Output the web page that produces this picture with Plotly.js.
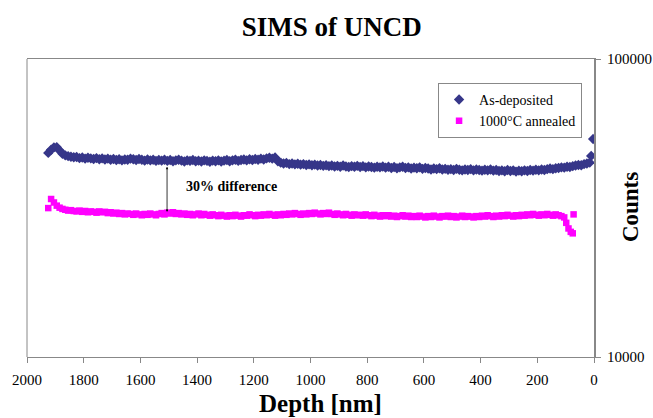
<!DOCTYPE html>
<html>
<head>
<meta charset="utf-8">
<script src="https://cdn.plot.ly/plotly-3.0.1.min.js"></script>
<style>html,body{margin:0;padding:0;background:#fff;}#chart{width:653px;height:418px;}</style>
</head>
<body>
<div id="chart"></div>
<script>
// ---- Data ----
var asDepDepth = [1925,1915,1905,1895,1885,1875,1865,1855,1845,1835,
1825,1815,1805,1795,1785,1775,1765,1755,1745,1735,
1725,1715,1705,1695,1685,1675,1665,1655,1645,1635,
1625,1615,1605,1595,1585,1575,1565,1555,1545,1535,
1525,1515,1505,1495,1485,1475,1465,1455,1445,1435,
1425,1415,1405,1395,1385,1375,1365,1355,1345,1335,
1325,1315,1305,1295,1285,1275,1265,1255,1245,1235,
1225,1215,1205,1195,1185,1175,1165,1155,1145,1135,
1125,1115,1105,1095,1085,1075,1065,1055,1045,1035,
1025,1015,1005,995,985,975,965,955,945,935,
925,915,905,895,885,875,865,855,845,835,
825,815,805,795,785,775,765,755,745,735,
725,715,705,695,685,675,665,655,645,635,
625,615,605,595,585,575,565,555,545,535,
525,515,505,495,485,475,465,455,445,435,
425,415,405,395,385,375,365,355,345,335,
325,315,305,295,285,275,265,255,245,235,
225,215,205,195,185,175,165,155,145,135,
125,115,105,95,85,75,65,55,45,35,
25,15,10,3];
var asDepCounts = [48400,49600,50500,50600,49300,48100,47500,47200,47000,46800,
46900,46500,46700,46300,46600,46400,46200,46500,46100,46400,
46000,46300,45900,46200,45800,46100,45700,46000,45900,46300,
46100,45800,46200,45900,45600,46000,45700,45900,45500,45800,
45600,45900,45500,45800,45400,45700,45900,45600,45300,45700,
45500,45800,45400,45600,45300,45700,45500,45200,45600,45400,
45700,45300,45600,45800,45400,45700,45900,45500,45800,46000,
45700,46100,45800,46200,45900,46300,46000,46400,46600,46300,
46700,45400,44900,44600,44800,44400,44600,44300,44500,44200,
44400,44100,44300,44000,44200,43900,44100,43800,44000,43700,
43900,43600,43800,43500,43900,43600,43400,43700,43500,43800,
43400,43700,43300,43600,43400,43200,43500,43300,43600,43200,
43500,43100,43400,43000,43300,43500,43100,43300,42900,43200,
43000,43300,42800,43100,42900,42600,42900,42700,43000,42600,
42800,42500,42700,42400,42800,42500,42300,42600,42400,42700,
42300,42600,42400,42200,42500,42300,42600,42200,42400,42100,
42300,42000,42400,42100,42300,41900,42200,42000,42300,42100,
42400,42200,42500,42300,42600,42400,42700,42900,42700,43000,
43100,43300,43200,43500,43400,43700,43900,44100,44000,44400,
44600,44900,47300,53900];

var annDepth = [1925,1915,1905,1895,1885,1875,1865,1855,1845,1835,
1825,1815,1805,1795,1785,1775,1765,1755,1745,1735,
1725,1715,1705,1695,1685,1675,1665,1655,1645,1635,
1625,1615,1605,1595,1585,1575,1565,1555,1545,1535,
1525,1515,1505,1495,1485,1475,1465,1455,1445,1435,
1425,1415,1405,1395,1385,1375,1365,1355,1345,1335,
1325,1315,1305,1295,1285,1275,1265,1255,1245,1235,
1225,1215,1205,1195,1185,1175,1165,1155,1145,1135,
1125,1115,1105,1095,1085,1075,1065,1055,1045,1035,
1025,1015,1005,995,985,975,965,955,945,935,
925,915,905,895,885,875,865,855,845,835,
825,815,805,795,785,775,765,755,745,735,
725,715,705,695,685,675,665,655,645,635,
625,615,605,595,585,575,565,555,545,535,
525,515,505,495,485,475,465,455,445,435,
425,415,405,395,385,375,365,355,345,335,
325,315,305,295,285,275,265,255,245,235,
225,215,205,195,185,175,165,155,145,135,
125,115,105,98,90,82,75,72];
var annCounts = [31600,33900,33000,32200,31700,31400,31200,31000,31100,30900,
30800,31000,30700,30900,30600,30800,30700,30500,30800,30600,
30700,30400,30600,30300,30500,30200,30400,30100,30300,30200,
30000,30300,30100,29900,30200,30000,30300,30100,29900,30200,
30400,30100,30500,30300,30600,30200,30400,30100,30300,30000,
30200,29900,30100,30300,29900,30200,30000,29800,30100,29900,
29700,30000,29800,29600,29900,29700,30000,29800,29600,29900,
29800,30100,29900,29700,30000,29800,30100,29900,30200,30000,
29800,30100,29900,30200,30000,30300,30100,30400,30200,30000,
30300,30100,30400,30200,30500,30300,30100,30400,30200,30500,
30200,30000,30300,30100,29900,30200,30000,29800,30100,29900,
30000,29800,30100,29900,29700,30000,29800,29600,29900,29700,
29900,29600,29800,29500,29700,29900,29600,29800,29500,29700,
29500,29800,29600,29400,29700,29500,29800,29600,29400,29700,
29600,29800,29500,29700,29400,29600,29800,29500,29700,29600,
29400,29700,29500,29800,29600,29900,29700,29500,29800,29600,
29900,29700,30000,29800,29600,29900,29700,30000,29800,30100,
29900,30200,30000,29800,30100,29900,30200,30000,29800,30100,
29900,29700,29400,28200,27000,26300,26000,30100];

var seriesNames = ['As-deposited', '1000\u00B0C annealed'];
var xTickVals = [2000,1800,1600,1400,1200,1000,800,600,400,200,0];
var yTickVals = [10000, 100000];
var yTickText = ['10000', '100000'];
var diffLabel = '30% difference';
var arrowDepth = 1506;
var arrowTop = 44000;
var arrowBottom = 30700;
var labelDepth = 1277;
var labelCounts = 37200;

var serif = 'Liberation Serif, Times New Roman, serif';

var traces = [
  {x: asDepDepth, y: asDepCounts, name: seriesNames[0], type: 'scatter', mode: 'markers',
   marker: {symbol: 'diamond', size: 8, color: '#363689'}},
  {x: annDepth, y: annCounts, name: seriesNames[1], type: 'scatter', mode: 'markers',
   marker: {symbol: 'square', size: 6.5, color: '#FF00FF'}}
];

var layout = {
  width: 653, height: 418,
  margin: {l: 27, r: 59, t: 59, b: 61, pad: 0},
  paper_bgcolor: '#fff', plot_bgcolor: '#fff',
  font: {family: serif, color: '#000', size: 15},
  title: {text: '<b>SIMS of UNCD</b>', font: {family: serif, size: 27, color: '#000'},
          xref: 'container', x: 0.508, xanchor: 'center', yref: 'container', y: 0.937, yanchor: 'middle'},
  showlegend: true,
  legend: {x: 0.725, y: 0.92, xanchor: 'left', yanchor: 'top', bgcolor: '#fff',
           bordercolor: '#888', borderwidth: 1, font: {family: serif, size: 14, color: '#000'},
           itemwidth: 30, tracegroupgap: 0},
  xaxis: {range: [2000, 0], tickvals: xTickVals, ticks: 'outside', ticklen: 5, tickcolor: '#888',
          showline: true, linecolor: '#888', linewidth: 1, mirror: true, showgrid: false, zeroline: false,
          tickfont: {family: serif, size: 15, color: '#000'}, ticklabelstandoff: 4},
  yaxis: {type: 'log', range: [4, 5], side: 'right', tickvals: yTickVals, ticktext: yTickText,
          ticks: 'outside', ticklen: 5, tickcolor: '#888', showline: true, linecolor: '#888', linewidth: 2,
          showgrid: false, zeroline: false, tickfont: {family: serif, size: 15, color: '#000'},
          ticklabelstandoff: 3},
  shapes: [
    {type: 'line', xref: 'paper', yref: 'paper', x0: 0, x1: 0, y0: 0, y1: 1, line: {color: '#888', width: 1}}
  ],
  annotations: [
    {xref: 'paper', yref: 'paper', x: 0.517, y: -0.155, text: '<b>Depth [nm]</b>', showarrow: false,
     font: {family: serif, size: 25, color: '#000'}, xanchor: 'center', yanchor: 'middle', borderpad: 0},
    {xref: 'paper', yref: 'paper', x: 1.0635, y: 0.503, text: '<b>Counts</b>', showarrow: false,
     textangle: -90, font: {family: serif, size: 23, color: '#000'}, xanchor: 'center', yanchor: 'middle'},
    {x: labelDepth, y: Math.log10(labelCounts), xref: 'x', yref: 'y', text: '<b>' + diffLabel + '</b>',
     showarrow: false, font: {family: serif, size: 14, color: '#000'}, xanchor: 'center', yanchor: 'middle'},
    {x: arrowDepth, y: Math.log10(arrowBottom), xref: 'x', yref: 'y', ax: arrowDepth, ay: Math.log10(arrowTop),
     axref: 'x', ayref: 'y', text: '', showarrow: true, arrowhead: 2, arrowside: 'end+start', arrowsize: 0.6,
     arrowwidth: 0.8, arrowcolor: '#000', standoff: 0, startstandoff: 0}
  ]
};

Plotly.newPlot('chart', traces, layout, {displayModeBar: false, staticPlot: true});
</script>
</body>
</html>
